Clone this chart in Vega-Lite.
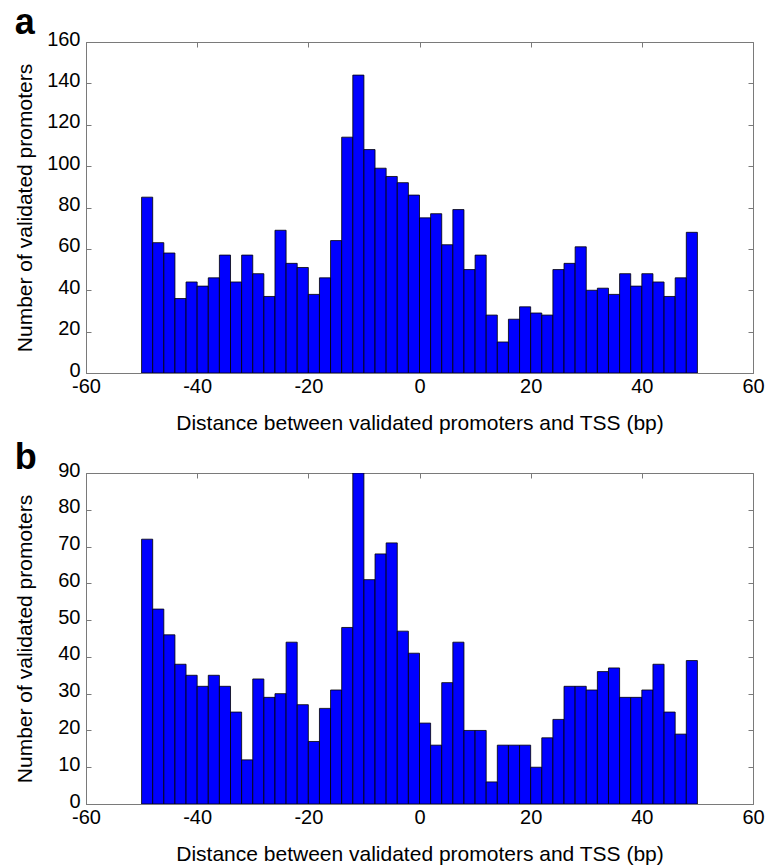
{
  "$schema": "https://vega.github.io/schema/vega-lite/v6.json",
  "background": "white",
  "padding": {"left": 14, "top": 4, "right": 5, "bottom": 0},
  "spacing": 5,
  "config": {
    "font": "Liberation Sans",
    "view": {"stroke": "#7a7a7a", "strokeWidth": 1},
    "axis": {
      "grid": false,
      "labelFont": "Liberation Sans",
      "labelFontSize": 20,
      "labelColor": "#000000",
      "titleFont": "Liberation Sans",
      "titleFontSize": 21,
      "titleFontWeight": "normal",
      "titleColor": "#000000",
      "domainColor": "#7a7a7a",
      "tickColor": "#7a7a7a",
      "tickSize": -5,
      "labelFlush": false,
      "labelOverlap": false,
      "labelExpr": "'' + datum.value"
    },
    "axisY": {"labelOffset": -3},
    "title": {"font": "Liberation Sans", "fontSize": 36, "fontWeight": "bold", "color": "#000000"}
  },
  "datasets": {
    "a": [
      {"start": -50, "end": -48, "count": 85}, {"start": -48, "end": -46, "count": 63},
      {"start": -46, "end": -44, "count": 58}, {"start": -44, "end": -42, "count": 36},
      {"start": -42, "end": -40, "count": 44}, {"start": -40, "end": -38, "count": 42},
      {"start": -38, "end": -36, "count": 46}, {"start": -36, "end": -34, "count": 57},
      {"start": -34, "end": -32, "count": 44}, {"start": -32, "end": -30, "count": 57},
      {"start": -30, "end": -28, "count": 48}, {"start": -28, "end": -26, "count": 37},
      {"start": -26, "end": -24, "count": 69}, {"start": -24, "end": -22, "count": 53},
      {"start": -22, "end": -20, "count": 51}, {"start": -20, "end": -18, "count": 38},
      {"start": -18, "end": -16, "count": 46}, {"start": -16, "end": -14, "count": 64},
      {"start": -14, "end": -12, "count": 114}, {"start": -12, "end": -10, "count": 144},
      {"start": -10, "end": -8, "count": 108}, {"start": -8, "end": -6, "count": 99},
      {"start": -6, "end": -4, "count": 95}, {"start": -4, "end": -2, "count": 92},
      {"start": -2, "end": 0, "count": 86}, {"start": 0, "end": 2, "count": 75},
      {"start": 2, "end": 4, "count": 77}, {"start": 4, "end": 6, "count": 62},
      {"start": 6, "end": 8, "count": 79}, {"start": 8, "end": 10, "count": 50},
      {"start": 10, "end": 12, "count": 57}, {"start": 12, "end": 14, "count": 28},
      {"start": 14, "end": 16, "count": 15}, {"start": 16, "end": 18, "count": 26},
      {"start": 18, "end": 20, "count": 32}, {"start": 20, "end": 22, "count": 29},
      {"start": 22, "end": 24, "count": 28}, {"start": 24, "end": 26, "count": 50},
      {"start": 26, "end": 28, "count": 53}, {"start": 28, "end": 30, "count": 61},
      {"start": 30, "end": 32, "count": 40}, {"start": 32, "end": 34, "count": 41},
      {"start": 34, "end": 36, "count": 38}, {"start": 36, "end": 38, "count": 48},
      {"start": 38, "end": 40, "count": 42}, {"start": 40, "end": 42, "count": 48},
      {"start": 42, "end": 44, "count": 44}, {"start": 44, "end": 46, "count": 37},
      {"start": 46, "end": 48, "count": 46}, {"start": 48, "end": 50, "count": 68}
    ],
    "b": [
      {"start": -50, "end": -48, "count": 72}, {"start": -48, "end": -46, "count": 53},
      {"start": -46, "end": -44, "count": 46}, {"start": -44, "end": -42, "count": 38},
      {"start": -42, "end": -40, "count": 35}, {"start": -40, "end": -38, "count": 32},
      {"start": -38, "end": -36, "count": 35}, {"start": -36, "end": -34, "count": 32},
      {"start": -34, "end": -32, "count": 25}, {"start": -32, "end": -30, "count": 12},
      {"start": -30, "end": -28, "count": 34}, {"start": -28, "end": -26, "count": 29},
      {"start": -26, "end": -24, "count": 30}, {"start": -24, "end": -22, "count": 44},
      {"start": -22, "end": -20, "count": 27}, {"start": -20, "end": -18, "count": 17},
      {"start": -18, "end": -16, "count": 26}, {"start": -16, "end": -14, "count": 31},
      {"start": -14, "end": -12, "count": 48}, {"start": -12, "end": -10, "count": 90},
      {"start": -10, "end": -8, "count": 61}, {"start": -8, "end": -6, "count": 68},
      {"start": -6, "end": -4, "count": 71}, {"start": -4, "end": -2, "count": 47},
      {"start": -2, "end": 0, "count": 41}, {"start": 0, "end": 2, "count": 22},
      {"start": 2, "end": 4, "count": 16}, {"start": 4, "end": 6, "count": 33},
      {"start": 6, "end": 8, "count": 44}, {"start": 8, "end": 10, "count": 20},
      {"start": 10, "end": 12, "count": 20}, {"start": 12, "end": 14, "count": 6},
      {"start": 14, "end": 16, "count": 16}, {"start": 16, "end": 18, "count": 16},
      {"start": 18, "end": 20, "count": 16}, {"start": 20, "end": 22, "count": 10},
      {"start": 22, "end": 24, "count": 18}, {"start": 24, "end": 26, "count": 23},
      {"start": 26, "end": 28, "count": 32}, {"start": 28, "end": 30, "count": 32},
      {"start": 30, "end": 32, "count": 31}, {"start": 32, "end": 34, "count": 36},
      {"start": 34, "end": 36, "count": 37}, {"start": 36, "end": 38, "count": 29},
      {"start": 38, "end": 40, "count": 29}, {"start": 40, "end": 42, "count": 31},
      {"start": 42, "end": 44, "count": 38}, {"start": 44, "end": 46, "count": 25},
      {"start": 46, "end": 48, "count": 19}, {"start": 48, "end": 50, "count": 39}
    ]
  },
  "vconcat": [
    {
      "title": {"text": "a", "anchor": "start", "frame": "bounds", "offset": -13},
      "width": 667,
      "height": 331,
      "data": {"name": "a"},
      "layer": [
        {
          "mark": {"type": "bar", "color": "#0000ff", "stroke": "#000000", "strokeWidth": 0.8, "clip": true},
          "encoding": {
            "x": {"field": "start", "type": "quantitative",
                  "scale": {"domain": [-60, 60], "nice": false, "zero": false},
                  "axis": {"values": [-60, -40, -20, 0, 20, 40, 60], "labelPadding": 8, "titlePadding": 16,
                           "title": "Distance between validated promoters and TSS (bp)"}},
            "x2": {"field": "end"},
            "y": {"field": "count", "type": "quantitative",
                  "scale": {"domain": [0, 160], "nice": false},
                  "axis": {"values": [0, 20, 40, 60, 80, 100, 120, 140, 160], "labelPadding": 11, "titlePadding": 11,
                           "title": "Number of validated promoters"}},
            "y2": {"datum": 0}
          }
        },
        {
          "mark": {"type": "bar", "opacity": 0},
          "encoding": {
            "x": {"field": "start", "type": "quantitative",
                  "axis": {"orient": "top", "values": [-60, -40, -20, 0, 20, 40, 60], "labels": false, "title": null, "domain": false}},
            "x2": {"field": "end"},
            "y": {"field": "count", "type": "quantitative",
                  "axis": {"orient": "right", "values": [0, 20, 40, 60, 80, 100, 120, 140, 160], "labels": false, "title": null, "domain": false}},
            "y2": {"datum": 0}
          }
        }
      ],
      "resolve": {"axis": {"x": "independent", "y": "independent"}}
    },
    {
      "title": {"text": "b", "anchor": "start", "frame": "bounds", "offset": -17},
      "width": 667,
      "height": 331,
      "data": {"name": "b"},
      "layer": [
        {
          "mark": {"type": "bar", "color": "#0000ff", "stroke": "#000000", "strokeWidth": 0.8, "clip": true},
          "encoding": {
            "x": {"field": "start", "type": "quantitative",
                  "scale": {"domain": [-60, 60], "nice": false, "zero": false},
                  "axis": {"values": [-60, -40, -20, 0, 20, 40, 60], "labelPadding": 8, "titlePadding": 16,
                           "title": "Distance between validated promoters and TSS (bp)"}},
            "x2": {"field": "end"},
            "y": {"field": "count", "type": "quantitative",
                  "scale": {"domain": [0, 90], "nice": false},
                  "axis": {"values": [0, 10, 20, 30, 40, 50, 60, 70, 80, 90], "labelPadding": 11, "titlePadding": 22,
                           "title": "Number of validated promoters"}},
            "y2": {"datum": 0}
          }
        },
        {
          "mark": {"type": "bar", "opacity": 0},
          "encoding": {
            "x": {"field": "start", "type": "quantitative",
                  "axis": {"orient": "top", "values": [-60, -40, -20, 0, 20, 40, 60], "labels": false, "title": null, "domain": false}},
            "x2": {"field": "end"},
            "y": {"field": "count", "type": "quantitative",
                  "axis": {"orient": "right", "values": [0, 10, 20, 30, 40, 50, 60, 70, 80, 90], "labels": false, "title": null, "domain": false}},
            "y2": {"datum": 0}
          }
        }
      ],
      "resolve": {"axis": {"x": "independent", "y": "independent"}}
    }
  ]
}
